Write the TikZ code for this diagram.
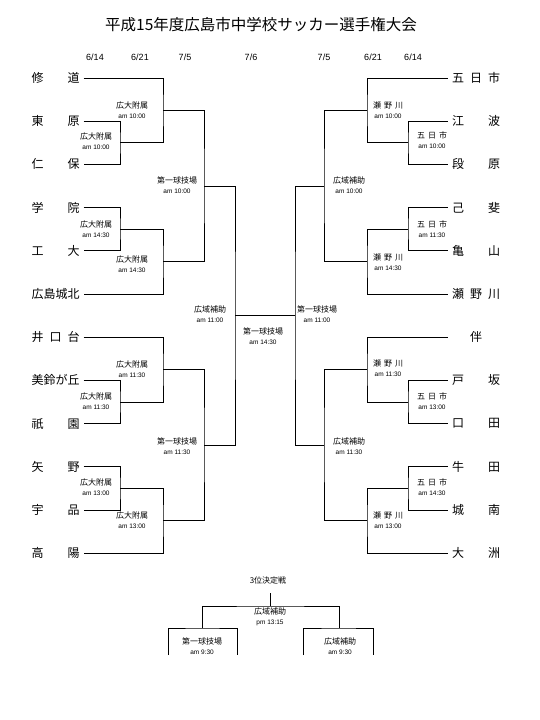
\documentclass[tikz,border=0pt]{standalone}
\usepackage{fontspec}
\setmainfont{Liberation Sans}
\newfontfamily\jpfont{Noto Sans CJK JP}

\newcommand{\game}[2]{{\jpfont #1}\\{\fontsize{6.5}{7}\selectfont #2}}
\newcommand{\wide}[1]{\makebox[30pt]{#1}}

\tikzset{
  team/.style={inner sep=4pt, font=\jpfont\fontsize{12}{12}\selectfont},
  venue/.style={align=center, inner sep=0pt, font=\fontsize{8}{10}\selectfont},
  day/.style={font=\fontsize{9}{9}\selectfont},
  bracket/.style={line width=0.8pt},
}

\begin{document}
\begin{tikzpicture}[x=1pt, y=-1pt]
    \useasboundingbox (0,0) rectangle (540,720);

    % Title
    \node[font=\jpfont\fontsize{15.5}{15.5}\selectfont] (title) at (261,25) {平成15年度広島市中学校サッカー選手権大会};

    % Dates
    \node[day] (d1) at (95,57) {6/14};
    \node[day] (d2) at (140,57) {6/21};
    \node[day] (d3) at (185,57) {7/5};
    \node[day] (d4) at (251,57) {7/6};
    \node[day] (d5) at (324,57) {7/5};
    \node[day] (d6) at (373,57) {6/21};
    \node[day] (d7) at (413,57) {6/14};

    % Teams
    \foreach \n [count=\i, evaluate=\i as \y using 78+43.2*(\i-1)] in
      {修\hfill 道, 東\hfill 原, 仁\hfill 保, 学\hfill 院, 工\hfill 大, 広島城北,
       井\hfill 口\hfill 台, 美鈴が丘, 祇\hfill 園, 矢\hfill 野, 宇\hfill 品, 高\hfill 陽}
      \node[team] (L\i) at (55.5,\y) {\makebox[48pt]{\n}};
    \foreach \n [count=\i, evaluate=\i as \y using 78+43.2*(\i-1)] in
      {五\hfill 日\hfill 市, 江\hfill 波, 段\hfill 原, 己\hfill 斐, 亀\hfill 山, 瀬\hfill 野\hfill 川,
       伴, 戸\hfill 坂, 口\hfill 田, 牛\hfill 田, 城\hfill 南, 大\hfill 洲}
      \node[team] (R\i) at (476,\y) {\makebox[48pt]{\n}};

    % Junctions, left
    \coordinate (lp1) at (120,142.8);  \coordinate (lq1) at (163,110.4);
    \coordinate (lp2) at (120,229.2);  \coordinate (lq2) at (163,261.6);
    \coordinate (lp3) at (120,402);    \coordinate (lq3) at (163,369.6);
    \coordinate (lp4) at (120,488.4);  \coordinate (lq4) at (163,520.8);
    \coordinate (lc1) at (204,186);    \coordinate (lc2) at (204,445.2);
    \coordinate (ls) at (235,315.6);
    % Junctions, right
    \coordinate (rp1) at (408,142.8);  \coordinate (rq1) at (367,110.4);
    \coordinate (rp2) at (408,229.2);  \coordinate (rq2) at (367,261.6);
    \coordinate (rp3) at (408,402);    \coordinate (rq3) at (367,369.6);
    \coordinate (rp4) at (408,488.4);  \coordinate (rq4) at (367,520.8);
    \coordinate (rc1) at (324,186);    \coordinate (rc2) at (324,445.2);
    \coordinate (rs) at (295,315.6);

    % Left bracket
    \draw[bracket] (L2.east) -| (lp1) |- (L3.east);
    \draw[bracket] (L1.east) -| (lq1) |- (lp1);
    \draw[bracket] (L4.east) -| (lp2) |- (L5.east);
    \draw[bracket] (lp2) -| (lq2) |- (L6.east);
    \draw[bracket] (L8.east) -| (lp3) |- (L9.east);
    \draw[bracket] (L7.east) -| (lq3) |- (lp3);
    \draw[bracket] (L10.east) -| (lp4) |- (L11.east);
    \draw[bracket] (lp4) -| (lq4) |- (L12.east);
    \draw[bracket] (lq1) -| (lc1) |- (lq2);
    \draw[bracket] (lq3) -| (lc2) |- (lq4);
    \draw[bracket] (lc1) -| (ls) |- (lc2);

    % Right bracket
    \draw[bracket] (R2.west) -| (rp1) |- (R3.west);
    \draw[bracket] (R1.west) -| (rq1) |- (rp1);
    \draw[bracket] (R4.west) -| (rp2) |- (R5.west);
    \draw[bracket] (rp2) -| (rq2) |- (R6.west);
    \draw[bracket] (R8.west) -| (rp3) |- (R9.west);
    \draw[bracket] (R7.west) -| (rq3) |- (rp3);
    \draw[bracket] (R10.west) -| (rp4) |- (R11.west);
    \draw[bracket] (rp4) -| (rq4) |- (R12.west);
    \draw[bracket] (rq1) -| (rc1) |- (rq2);
    \draw[bracket] (rq3) -| (rc2) |- (rq4);
    \draw[bracket] (rc1) -| (rs) |- (rc2);

    % Final
    \draw[bracket] (ls) -- (rs);

    % Venues, left
    \node[venue] (vlp1) at (96,141) {\game{広大附属}{am 10:00}};
    \node[venue] (vlq1) at (132,110) {\game{広大附属}{am 10:00}};
    \node[venue] (vlp2) at (96,229) {\game{広大附属}{am 14:30}};
    \node[venue] (vlq2) at (132,264) {\game{広大附属}{am 14:30}};
    \node[venue] (vlp3) at (96,401) {\game{広大附属}{am 11:30}};
    \node[venue] (vlq3) at (132,369) {\game{広大附属}{am 11:30}};
    \node[venue] (vlp4) at (96,487) {\game{広大附属}{am 13:00}};
    \node[venue] (vlq4) at (132,520) {\game{広大附属}{am 13:00}};
    \node[venue] (vlc1) at (177,185) {\game{第一球技場}{am 10:00}};
    \node[venue] (vlc2) at (177,446) {\game{第一球技場}{am 11:30}};
    \node[venue] (vls) at (210,314) {\game{広域補助}{am 11:00}};
    \node[venue] (vfin) at (263,336) {\game{第一球技場}{am 14:30}};

    % Venues, right
    \node[venue] (vrp1) at (432,140) {\game{\wide{五\hfill 日\hfill 市}}{am 10:00}};
    \node[venue] (vrq1) at (388,110) {\game{\wide{瀬\hfill 野\hfill 川}}{am 10:00}};
    \node[venue] (vrp2) at (432,229) {\game{\wide{五\hfill 日\hfill 市}}{am 11:30}};
    \node[venue] (vrq2) at (388,262) {\game{\wide{瀬\hfill 野\hfill 川}}{am 14:30}};
    \node[venue] (vrp3) at (432,401) {\game{\wide{五\hfill 日\hfill 市}}{am 13:00}};
    \node[venue] (vrq3) at (388,368) {\game{\wide{瀬\hfill 野\hfill 川}}{am 11:30}};
    \node[venue] (vrp4) at (432,487) {\game{\wide{五\hfill 日\hfill 市}}{am 14:30}};
    \node[venue] (vrq4) at (388,520) {\game{\wide{瀬\hfill 野\hfill 川}}{am 13:00}};
    \node[venue] (vrc1) at (349,185) {\game{広域補助}{am 10:00}};
    \node[venue] (vrc2) at (349,446) {\game{広域補助}{am 11:30}};
    \node[venue] (vrs) at (317,314) {\game{第一球技場}{am 11:00}};

    % Third place
    \node[venue, font=\jpfont\fontsize{8}{10}\selectfont] (third) at (268,580) {3位決定戦};
    \coordinate (t0) at (270,593);
    \coordinate (t1) at (270,606);
    \coordinate (tl) at (202,628);
    \coordinate (tr) at (339,628);
    \coordinate (tl1) at (168,655);
    \coordinate (tl2) at (237,655);
    \coordinate (tr1) at (303,655);
    \coordinate (tr2) at (373,655);
    \draw[bracket] (t0) -- (t1);
    \draw[bracket] (tl) |- (t1) -| (tr);
    \draw[bracket] (tl1) |- (tl) -| (tl2);
    \draw[bracket] (tr1) |- (tr) -| (tr2);
    \node[venue] (vt) at (270,617) {\game{広域補助}{pm 13:15}};
    \node[venue] (vtl) at (202,646) {\game{第一球技場}{am 9:30}};
    \node[venue] (vtr) at (340,646) {\game{広域補助}{am 9:30}};
\end{tikzpicture}
\end{document}
